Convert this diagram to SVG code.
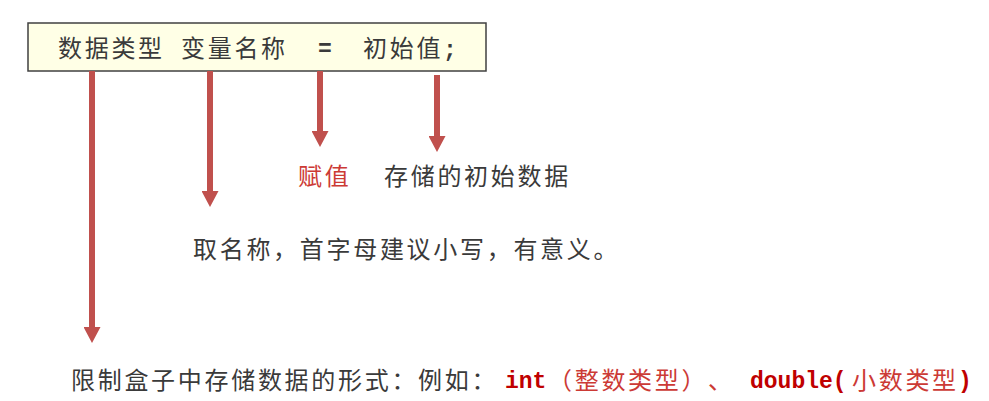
<svg xmlns="http://www.w3.org/2000/svg" width="989" height="401" viewBox="0 0 989 401">
<defs>
<style>
.cjk{font-family:"Noto Sans CJK SC","Noto Sans",sans-serif;font-size:24px;letter-spacing:2.7px;fill:#3a3a3a}
.red{fill:#cc3a35}
.mono{font-family:"Liberation Mono","DejaVu Sans Mono",monospace;font-weight:bold;font-size:23px;fill:#c00000;letter-spacing:0}
.monog{font-family:"Liberation Mono","DejaVu Sans Mono",monospace;font-weight:bold;font-size:23px;fill:#3a3a3a;letter-spacing:0}
.arr{stroke:#c0504d;stroke-width:6;fill:none}
</style>
<marker id="ah" markerUnits="userSpaceOnUse" viewBox="0 0 16 17" refX="0" refY="8.5" markerWidth="16" markerHeight="17" orient="auto">
<path d="M0,0 L16,8.5 L0,17 Z" fill="#c0504d"/>
</marker>
</defs>
<rect width="989" height="401" fill="#ffffff"/>
<g id="box">
<rect x="28" y="23" width="458" height="48" fill="#ffffe6" stroke="#404040" stroke-width="1.5"/>
<text class="cjk" x="58" y="57">数据类型</text>
<text class="cjk" x="181" y="57">变量名称</text>
<text class="monog" x="318" y="56">=</text>
<text class="cjk" x="363" y="57">初始值<tspan class="monog">;</tspan></text>
</g>
<g id="connectors">
<line class="arr" x1="92" y1="71" x2="92" y2="327" marker-end="url(#ah)"/>
<line class="arr" x1="210" y1="71" x2="210" y2="191" marker-end="url(#ah)"/>
<line class="arr" x1="320" y1="71" x2="320" y2="131" marker-end="url(#ah)"/>
<line class="arr" x1="437" y1="75" x2="437" y2="136" marker-end="url(#ah)"/>
</g>
<g id="assign">
<text class="cjk red" x="298" y="185">赋值</text>
</g>
<g id="initial">
<text class="cjk" x="384" y="185">存储的初始数据</text>
</g>
<g id="name">
<text class="cjk" x="193" y="258">取名称，首字母建议小写，有意义。</text>
</g>
<g id="type">
<text class="cjk" x="71" y="389">限制盒子中存储数据的形式：例如：</text>
<text class="mono" x="505" y="388">int</text>
<text class="cjk red" x="548" y="389">（整数类型）</text>
<text class="cjk red" x="708" y="389">、</text>
<text class="mono" x="750" y="388">double(</text>
<text class="cjk red" x="852" y="389">小数类型</text>
<text class="mono" x="958" y="388">)</text>
</g>
</svg>
